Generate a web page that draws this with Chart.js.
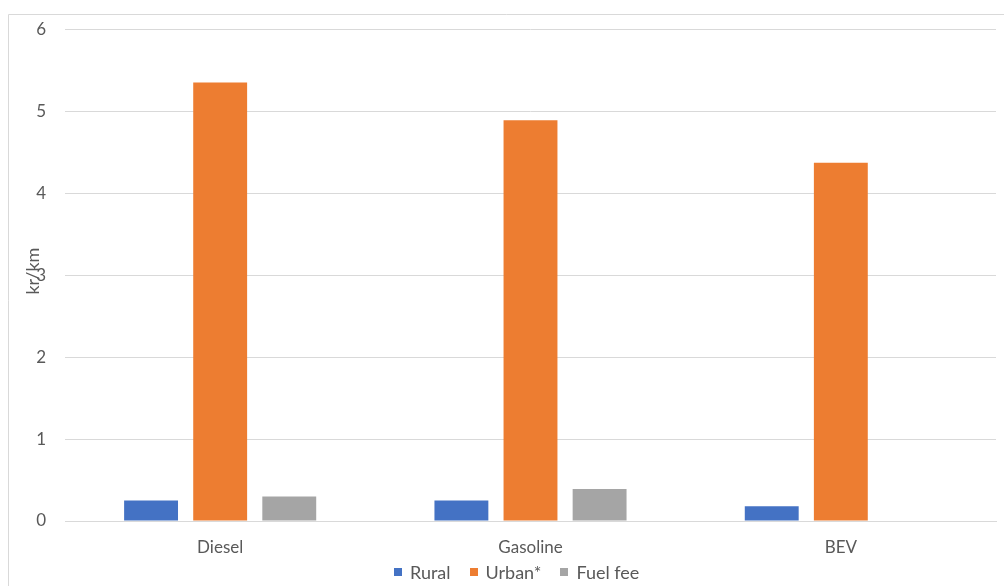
<!DOCTYPE html>
<html>
<head>
<meta charset="utf-8">
<script src="https://cdn.jsdelivr.net/npm/chart.js@4"></script>
<style>
  html, body { margin: 0; padding: 0; background: #fff; }
  #wrap { position: relative; width: 1004px; height: 586px; }
  #legend {
    position: absolute; left: 394px; top: 560px; height: 24px;
    display: flex; align-items: center;
    font-family: Lato, "Open Sans", sans-serif; font-size: 18px; color: #595959;
  }
  #legend .item { display: flex; align-items: center; margin-right: 19px; }
  #legend .box { width: 8px; height: 8px; margin-right: 8px; }
</style>
</head>
<body>
<div id="wrap">
  <canvas id="costChart" width="1004" height="586"></canvas>
  <div id="legend"></div>
</div>
<script>
    // kr per km by vehicle type
    const categories = ['Diesel', 'Gasoline', 'BEV'];
    const seriesNames = ['Rural', 'Urban*', 'Fuel fee'];
    const rural = [0.25, 0.25, 0.18];
    const urban = [5.35, 4.89, 4.37];
    const fuelFee = [0.30, 0.39, 0];
    const yTicks = [0, 1, 2, 3, 4, 5, 6];
    const colors = ['#4472C4', '#ED7D31', '#A5A5A5'];

    const TEXT = '#595959';
    const GRID = '#d9d9d9';
    const FONT = 'Lato, "Open Sans", sans-serif';

    // frame around the chart and the rotated axis title
    const framePlugin = {
        id: 'frame',
        beforeDraw(chart) {
            const ctx = chart.ctx;
            ctx.save();
            ctx.strokeStyle = GRID;
            ctx.lineWidth = 1;
            ctx.beginPath();
            ctx.moveTo(8.5, 600);
            ctx.lineTo(8.5, 14.5);
            ctx.lineTo(1010, 14.5);
            ctx.stroke();
            ctx.restore();
        },
        afterDraw(chart) {
            const ctx = chart.ctx;
            const area = chart.chartArea;
            ctx.save();
            ctx.translate(33, (area.top + area.bottom) / 2 - 4);
            ctx.rotate(-Math.PI / 2);
            ctx.fillStyle = TEXT;
            ctx.font = '18px ' + FONT;
            ctx.textAlign = 'center';
            ctx.textBaseline = 'middle';
            ctx.fillText('kr/km', 0, 0);
            ctx.restore();
        }
    };

    const chart = new Chart(document.getElementById('costChart'), {
        type: 'bar',
        data: {
            labels: categories,
            datasets: [
                { label: seriesNames[0], data: rural, backgroundColor: colors[0] },
                { label: seriesNames[1], data: urban, backgroundColor: colors[1] },
                { label: seriesNames[2], data: fuelFee, backgroundColor: colors[2] }
            ]
        },
        options: {
            responsive: false,
            animation: false,
            layout: { padding: { left: 0, right: 8, top: 27, bottom: 28 } },
            datasets: { bar: { categoryPercentage: 0.668, barPercentage: 0.78 } },
            plugins: {
                legend: { display: false },
                tooltip: { enabled: false }
            },
            scales: {
                x: {
                    grid: { display: false, drawTicks: false },
                    border: { color: GRID, width: 1 },
                    ticks: { color: TEXT, font: { family: FONT, size: 17 }, padding: 16 },
                    afterFit(scale) { scale.height = 37; }
                },
                y: {
                    min: 0, max: 6,
                    afterBuildTicks(scale) { scale.ticks = yTicks.map(v => ({ value: v })); },
                    grid: { color: GRID, drawTicks: false },
                    border: { display: false },
                    ticks: { color: TEXT, font: { family: FONT, size: 17 }, padding: 19 },
                    afterFit(scale) { scale.width = 65; }
                }
            }
        },
        plugins: [framePlugin]
    });

    // legend row under the axis, built from the datasets
    const legendEl = document.getElementById('legend');
    chart.data.datasets.forEach(ds => {
        const item = document.createElement('div');
        item.className = 'item';
        item.innerHTML = '<span class="box" style="background:' + ds.backgroundColor + '"></span><span>' + ds.label + '</span>';
        legendEl.appendChild(item);
    });
</script>
</body>
</html>
